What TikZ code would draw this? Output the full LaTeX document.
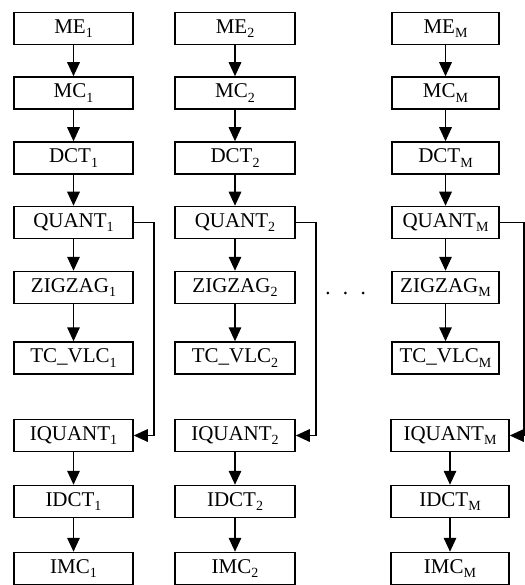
\documentclass[tikz,border=0pt]{standalone}
\usepackage{fontspec}
\setmainfont{Liberation Serif}
\usetikzlibrary{arrows.meta}
\newcommand{\idx}[1]{\raisebox{-0.45ex}{\fontsize{14}{14}\selectfont #1}}

\begin{document}
\begin{tikzpicture}[x=1pt,y=-1pt,
  blk/.style={draw,line width=1.5pt,minimum height=32pt,inner sep=0pt,font=\fontsize{21}{23}\selectfont},
  flow/.style={line width=1.6pt,-{Triangle[length=14pt,width=12.5pt]}},
  dotline/.style={line width=3pt,line cap=round,dash pattern=on 0pt off 17.67pt}]
  \useasboundingbox (0,0) rectangle (524,585);
  \foreach \c/\x/\w/\xb/\wb/\f in {1/73.5/119/73.5/119/20, 2/235/120/235/120/20, M/445.5/107/450/118/24}{
    \node[blk,minimum width=\w pt] (me\c) at (\x,28.5) {ME\idx{\c}};
    \node[blk,minimum width=\w pt] (mc\c) at (\x,93) {MC\idx{\c}};
    \node[blk,minimum width=\w pt] (dct\c) at (\x,158) {DCT\idx{\c}};
    \node[blk,minimum width=\w pt] (q\c) at (\x,222.5) {QUANT\idx{\c}};
    \node[blk,minimum width=\w pt] (zz\c) at (\x,287.5) {ZIGZAG\idx{\c}};
    \node[blk,minimum width=\w pt] (vlc\c) at (\x,358) {TC\_VLC\idx{\c}};
    \node[blk,minimum width=\wb pt] (iq\c) at (\xb,435.5) {IQUANT\idx{\c}};
    \node[blk,minimum width=\wb pt] (idct\c) at (\xb,501.5) {IDCT\idx{\c}};
    \node[blk,minimum width=\wb pt] (imc\c) at (\xb,568.5) {IMC\idx{\c}};
    \draw[flow] (me\c) -- (mc\c);
    \draw[flow] (mc\c) -- (dct\c);
    \draw[flow] (dct\c) -- (q\c);
    \draw[flow] (q\c) -- (zz\c);
    \draw[flow] (zz\c) -- (vlc\c);
    \draw[flow] (iq\c) -- (idct\c);
    \draw[flow] (idct\c) -- (imc\c);
    \draw[flow] (q\c.east) -- ++(\f,0) |- (iq\c.east);
  }
  \draw[dotline] ([shift={(32,5.5)}]zz2.east) -- ([shift={(-12,5.5)}]zzM.west);
\end{tikzpicture}
\end{document}
